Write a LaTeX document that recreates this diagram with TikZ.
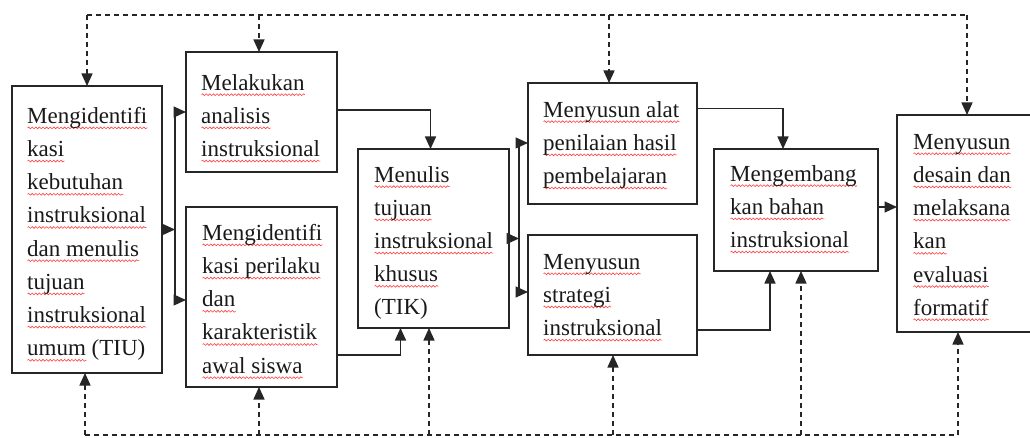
\documentclass[tikz,border=0pt]{standalone}
\usepackage{fontspec}
\setmainfont{Liberation Serif}
\usetikzlibrary{arrows.meta,decorations.pathmorphing}
% red wavy underline under each flagged word
\newlength\sqwlen
\newcommand\sqw[1]{\settowidth\sqwlen{#1}\rlap{\tikz[baseline=0pt,x=1pt,y=1pt]\draw[red!75,line width=0.6pt,solid,decorate,decoration={snake,amplitude=0.9pt,segment length=3.6pt}] (0pt,-4.5pt) -- (\sqwlen,-4.5pt);}#1}
\begin{document}
\begin{tikzpicture}[x=1pt,y=-1pt,
  box/.style={draw=black!85, line width=1.5pt, inner sep=0pt, outer sep=0pt, anchor=north west},
  txt/.style={anchor=north west, inner sep=0pt, align=left, text=black!90, font=\fontsize{23}{33.2}\selectfont},
  ln/.style={draw=black!85, line width=1.5pt},
  arr/.style={ln, -{Triangle[length=12.5pt,width=11pt]}},
  fb/.style={ln, line width=1.4pt, dash pattern=on 5pt off 4pt},
  fba/.style={fb, -{Triangle[length=12.5pt,width=11pt]}}]
\useasboundingbox (0,0) rectangle (1030,438);

% process boxes
\node[box, minimum width=150pt, minimum height=287pt] (A) at (12,86) {};
\node[box, minimum width=151pt, minimum height=120pt] (B) at (186,52) {};
\node[box, minimum width=151pt, minimum height=180pt] (C) at (186,207) {};
\node[box, minimum width=151pt, minimum height=179pt] (D) at (358,149) {};
\node[box, minimum width=169pt, minimum height=121pt] (E) at (528,83) {};
\node[box, minimum width=169pt, minimum height=120pt] (F) at (528,235) {};
\node[box, minimum width=164pt, minimum height=122pt] (G) at (714,149) {};
\node[box, minimum width=140pt, minimum height=217pt] (H) at (897,115) {};

% box texts
\node[txt] (tA) at ([xshift=15pt,yshift=-21pt]A.north west)
  {\sqw{Mengidentifi}\\\sqw{kasi}\\\sqw{kebutuhan}\\\sqw{instruksional}\\\sqw{dan menulis}\\\sqw{tujuan}\\\sqw{instruksional}\\\sqw{umum} (TIU)};
\node[txt] (tB) at ([xshift=15pt,yshift=-22pt]B.north west)
  {\sqw{Melakukan}\\\sqw{analisis}\\\sqw{instruksional}};
\node[txt] (tC) at ([xshift=16pt,yshift=-17pt]C.north west)
  {\sqw{Mengidentifi}\\\sqw{kasi perilaku}\\\sqw{dan}\\\sqw{karakteristik}\\\sqw{awal siswa}};
\node[txt] (tD) at ([xshift=16pt,yshift=-17pt]D.north west)
  {\sqw{Menulis}\\\sqw{tujuan}\\\sqw{instruksional}\\\sqw{khusus}\\(TIK)};
\node[txt] (tE) at ([xshift=15pt,yshift=-18pt]E.north west)
  {\sqw{Menyusun alat}\\\sqw{penilaian hasil}\\\sqw{pembelajaran}};
\node[txt] (tF) at ([xshift=15pt,yshift=-19pt]F.north west)
  {\sqw{Menyusun}\\\sqw{strategi}\\\sqw{instruksional}};
\node[txt] (tG) at ([xshift=16pt,yshift=-16pt]G.north west)
  {\sqw{Mengembang}\\\sqw{kan bahan}\\\sqw{instruksional}};
\node[txt] (tH) at ([xshift=16pt,yshift=-19pt]H.north west)
  {\sqw{Menyusun}\\\sqw{desain dan}\\\sqw{melaksana}\\\sqw{kan}\\\sqw{evaluasi}\\\sqw{formatif}};

% main flow
\coordinate (s1) at (175,112);
\coordinate (s2) at (175,300);
\draw[arr] (A.east) -- (A.east -| s1);
\draw[ln] (s1) -- (s2);
\draw[arr] (s1) -- (s1 -| B.west);
\draw[arr] (s2) -- (s2 -| C.west);

\draw[arr] ([yshift=2pt]B.east) -| ([xshift=-3pt]D.north);
\draw[arr] ([yshift=-58pt]C.east) -| ([xshift=-33pt]D.south);

\coordinate (s3) at (519,143);
\coordinate (s4) at (519,292);
\draw[arr] (D.east) -- (D.east -| s3);
\draw[ln] (s3) -- (s4);
\draw[arr] (s3) -- (s3 -| E.west);
\draw[arr] (s4) -- (s4 -| F.west);

\draw[arr] ([yshift=35pt]E.east) -| ([xshift=-13pt]G.north);
\draw[arr] ([yshift=-35pt]F.east) -| ([xshift=-26pt]G.south);
\draw[arr] ([yshift=3pt]G.east) -- ([yshift=3pt]G.east -| H.west);

% revision loop, top
\coordinate (ft1) at (87,15);
\coordinate (ft2) at (967,15);
\draw[fb] (ft1) -- (ft2);
\draw[fba] (ft1) -- (A.north);
\draw[fba] ([xshift=-2.5pt]B.north |- ft1) -- ([xshift=-2.5pt]B.north);
\draw[fba] ([xshift=-3.5pt]E.north |- ft1) -- ([xshift=-3.5pt]E.north);
\draw[fba] (ft2) -- (H.north);

% revision loop, bottom
\coordinate (fb1) at (85,435);
\coordinate (fb2) at (958,435);
\draw[fb] (fb1) -- (fb2);
\draw[fba] (fb1) -- ([xshift=-2pt]A.south);
\draw[fba] ([xshift=-2.5pt]C.south |- fb1) -- ([xshift=-2.5pt]C.south);
\draw[fba] ([xshift=-4.5pt]D.south |- fb1) -- ([xshift=-4.5pt]D.south);
\draw[fba] ([xshift=0.5pt]F.south |- fb1) -- ([xshift=0.5pt]F.south);
\draw[fba] ([xshift=5pt]G.south |- fb1) -- ([xshift=5pt]G.south);
\draw[fba] (fb2) -- ([xshift=-9pt]H.south);
\end{tikzpicture}
\end{document}
